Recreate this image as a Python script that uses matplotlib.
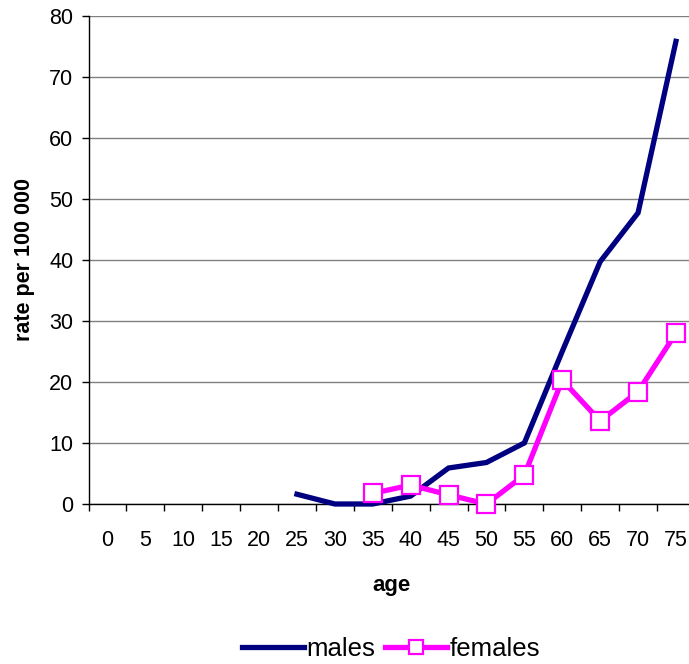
import matplotlib
matplotlib.use("Agg")
import matplotlib.pyplot as plt
import numpy as np

plt.rcParams['font.family'] = ['Liberation Sans', 'DejaVu Sans']

ages = ["0", "5", "10", "15", "20", "25", "30", "35", "40", "45", "50", "55", "60", "65", "70", "75"]
males = [None, None, None, None, None, 1.6, 0.0, 0.0, 1.3, 5.9, 6.8, 10.0, 25.0, 39.7, 47.7, 75.8]
females = [None, None, None, None, None, None, None, 1.75, 3.1, 1.5, 0.0, 4.75, 20.3, 13.6, 18.4, 28.0]
yticks = [0, 10, 20, 30, 40, 50, 60, 70, 80]

def arr(v):
    return np.array([np.nan if x is None else x for x in v], dtype=float)

fig = plt.figure(figsize=(6.89, 6.64), dpi=100)
ax = fig.add_axes([88.5 / 689, 160 / 664, 606.4 / 689, 488.3 / 664])

x = np.arange(len(ages))
ax.plot(x, arr(males), color='#000080', lw=3.8, solid_joinstyle='miter', label='males', clip_on=False, zorder=3)
ax.plot(x, arr(females), color='#FF00FF', lw=3.8, marker='s', markersize=13,
        markerfacecolor='white', markeredgecolor='#FF00FF', markeredgewidth=1.6,
        label='females', clip_on=False, zorder=4)

ax.set_xlim(-0.5, len(ages) - 0.5)
ax.set_ylim(0, 80)
ax.set_yticks(yticks)
ax.set_xticks(x)
ax.set_xticklabels(ages)
ax.set_xticks(np.arange(-0.5, len(ages), 1.0), minor=True)
ax.tick_params(axis='x', which='major', length=0, pad=19, labelsize=15.5)
ax.tick_params(axis='x', which='minor', length=5, width=1, direction='out')
ax.tick_params(axis='y', length=5, width=1, direction='out', labelsize=15.5, pad=6)

ax.yaxis.grid(True, color='#808080', lw=1)
ax.set_axisbelow(True)
for s in ['top', 'right']:
    ax.spines[s].set_visible(False)
ax.spines['left'].set_linewidth(1)
ax.spines['bottom'].set_linewidth(1)

ax.set_xlabel('age', fontsize=16, fontweight='bold', labelpad=17)
ax.set_ylabel('rate per 100 000', fontsize=15.5, fontweight='bold', labelpad=10)

leg = fig.legend(loc='center', bbox_to_anchor=(391 / 689, 1 - 649 / 664), ncol=2, frameon=False,
                 fontsize=18.5, handlelength=2.4, handletextpad=0.1, columnspacing=0.4, markerscale=0.75)

fig.savefig('out.png', dpi=100)
